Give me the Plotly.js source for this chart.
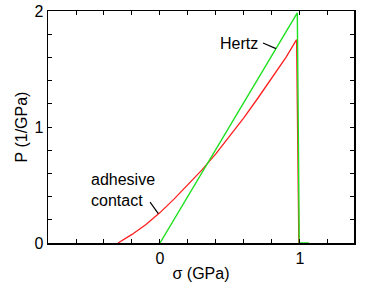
<!DOCTYPE html>
<html><head><meta charset="utf-8">
<script src="https://cdn.plot.ly/plotly-3.0.1.min.js"></script>
<style>html,body{margin:0;padding:0;background:#fff}</style>
</head><body><div id="chart" style="width:374px;height:282px"></div>
<script>
// Adhesive contact distribution (red)
const adhesiveSigma = [-0.30, -0.25, -0.20, -0.10, 0.00, 0.10, 0.20, 0.30, 0.40, 0.50, 0.60, 0.70, 0.80, 0.90, 0.976, 0.992];
const adhesiveP     = [0.00, 0.035, 0.074, 0.16, 0.262, 0.378, 0.50, 0.63, 0.77, 0.92, 1.08, 1.25, 1.42, 1.60, 1.753, 0.00];
// Hertz distribution (green)
const hertzSigma = [0.00, 0.981, 0.995, 1.064];
const hertzP     = [0.00, 1.983, 0.00, 0.00];
// Axis ticks
const xTickVals = [-0.8, -0.6, -0.4, -0.2, 0, 0.2, 0.4, 0.6, 0.8, 1, 1.2, 1.4];
const xTickText = ['', '', '', '', '0', '', '', '', '', '1', '', ''];
const yTickVals = [0, 0.2, 0.4, 0.6, 0.8, 1, 1.2, 1.4, 1.6, 1.8, 2];
const yTickText = ['0', '', '', '', '', '1', '', '', '', '', '2'];

const font = {family: 'Liberation Sans, Arial, sans-serif', size: 16, color: '#000'};

const traces = [
  {x: adhesiveSigma, y: adhesiveP, mode: 'lines', line: {color: 'rgb(255,30,30)', width: 1.3}, hoverinfo: 'skip'},
  {x: hertzSigma, y: hertzP, mode: 'lines', line: {color: 'rgb(30,225,30)', width: 1.4}, hoverinfo: 'skip'}
];

const axisCommon = {
  showline: true, linecolor: '#000', linewidth: 1.5, mirror: 'ticks',
  ticks: 'inside', ticklen: 4, tickwidth: 1, tickcolor: '#000',
  showgrid: false, zeroline: false, tickmode: 'array', tickfont: font
};

const layout = {
  width: 374, height: 282,
  margin: {l: 48, r: 20, t: 11, b: 39},
  paper_bgcolor: '#fff', plot_bgcolor: '#fff',
  showlegend: false, font: font,
  xaxis: Object.assign({}, axisCommon, {
    range: [-0.8, 1.386], tickvals: xTickVals, ticktext: xTickText,
    title: {text: 'σ (GPa)', font: font, standoff: 4}
  }),
  yaxis: Object.assign({}, axisCommon, {
    range: [0, 2], tickvals: yTickVals, ticktext: yTickText,
    title: {text: 'P (1/GPa)', font: font, standoff: 3}
  }),
  annotations: [
    {x: 0.568, y: 1.717, xref: 'x', yref: 'y', text: 'Hertz', showarrow: false, font: font},
    {x: -0.505, y: 0.454, xref: 'x', yref: 'y', text: 'adhesive<br>contact', showarrow: false,
     xanchor: 'left', align: 'left', font: font}
  ],
  shapes: [
    {type: 'line', xref: 'x', yref: 'y', x0: 0.736, y0: 1.724, x1: 0.829, y1: 1.676, line: {color: '#000', width: 1.2}},
    {type: 'line', xref: 'x', yref: 'y', x0: -0.071, y0: 0.353, x1: -0.012, y1: 0.253, line: {color: '#000', width: 1.2}}
  ]
};

Plotly.newPlot('chart', traces, layout, {staticPlot: true, displayModeBar: false});
</script></body></html>
